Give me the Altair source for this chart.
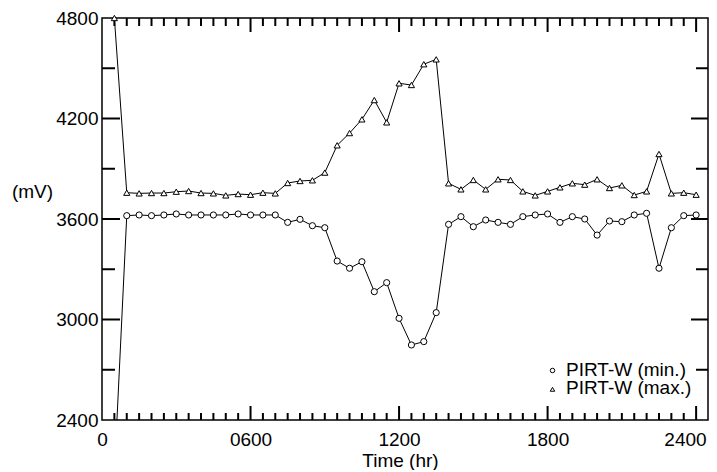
import altair as alt
import pandas as pd

# ---- data ----
hours = list(range(50, 2401, 50))
pirt_min = [2080, 3620, 3624, 3620, 3624, 3630, 3624, 3624, 3624, 3624, 3630, 3624,
            3624, 3624, 3580, 3598, 3560, 3548, 3349, 3306, 3345, 3166, 3220, 3007,
            2848, 2868, 3041, 3568, 3614, 3554, 3594, 3580, 3568, 3614, 3624, 3630,
            3580, 3614, 3600, 3504, 3588, 3584, 3624, 3634, 3306, 3548, 3620, 3624]
pirt_max = [4800, 3757, 3753, 3755, 3755, 3763, 3767, 3755, 3753, 3741, 3749, 3745,
            3757, 3753, 3815, 3827, 3831, 3877, 4040, 4113, 4195, 4310, 4177, 4410,
            4400, 4524, 4553, 3813, 3777, 3833, 3777, 3837, 3833, 3765, 3741, 3765,
            3789, 3813, 3805, 3837, 3785, 3801, 3743, 3765, 3988, 3753, 3757, 3745]
series_names = ["PIRT-W (min.)", "PIRT-W (max.)"]
series_shapes = ["circle", "triangle-up"]

x_ticks = [0, 600, 1200, 1800, 2400]
x_labels = ["0", "0600", "1200", "1800", "2400"]
y_ticks = [2400, 3000, 3600, 4200, 4800]
x_minor = [t for t in range(50, 2400, 50) if t % 600 != 0]
x_major = [600, 1200, 1800, 2400]
y_minor = [2700, 3300, 3900, 4500]
y_major = [3000, 3600, 4200]

W, H = 606, 402
FONT = "Liberation Sans"
FS = 19

df = pd.DataFrame({
    "hr": hours * 2,
    "mv": pirt_min + pirt_max,
    "series": [series_names[0]] * len(hours) + [series_names[1]] * len(hours),
})

xs = alt.Scale(domain=[0, 2448], nice=False, zero=False)
ys = alt.Scale(domain=[2400, 4800], nice=False, zero=False)

label_expr = ""
for v, l in zip(x_ticks, x_labels):
    label_expr += f"datum.value == {v} ? '{l}' : "
label_expr += "''"

x_axis = alt.Axis(values=x_ticks, labelExpr=label_expr, labelPadding=10, ticks=False,
                  domain=False, grid=False, labelFlush=False, labelOverlap=False,
                  labelAlign={"condition": {"test": "datum.value == 2400", "value": "right"},
                              "value": "center"},
                  labelOffset={"condition": {"test": "datum.value == 2400", "value": 10},
                               "value": 0},
                  labelFont=FONT, labelFontSize=FS, labelColor="black",
                  title="Time (hr)", titleFont=FONT, titleFontSize=FS, titleFontWeight="normal",
                  titleColor="black", titleX=298, titleY=46, titleBaseline="alphabetic",
                  titleAlign="center")
y_axis = alt.Axis(values=y_ticks, format="d", labelPadding=4, ticks=False, domain=False,
                  grid=False, labelFlush=False, labelOverlap=False,
                  labelFont=FONT, labelFontSize=FS, labelColor="black",
                  title="(mV)", titleFont=FONT, titleFontSize=FS, titleFontWeight="normal",
                  titleColor="black", titleAngle=0, titleX=-70, titleY=179,
                  titleBaseline="alphabetic", titleAlign="center")

base = alt.Chart(df)

lines = base.mark_line(color="black", strokeWidth=1, clip=True).encode(
    x=alt.X("hr:Q", scale=xs, axis=x_axis),
    y=alt.Y("mv:Q", scale=ys, axis=y_axis),
    detail="series:N",
)

points = base.transform_filter("datum.mv >= 2400").mark_point(
    filled=False, fill="white", fillOpacity=1, stroke="black", strokeWidth=1,
    size=38, opacity=1).encode(
    x=alt.X("hr:Q", scale=xs),
    y=alt.Y("mv:Q", scale=ys),
    shape=alt.Shape("series:N",
                    scale=alt.Scale(domain=series_names, range=series_shapes),
                    legend=None),
)


def xrules(vals, y0, y1):
    return alt.Chart(pd.DataFrame({"t": vals})).mark_rule(color="black", strokeWidth=2).encode(
        x=alt.X("t:Q", scale=xs), y=alt.value(y0), y2=alt.value(y1))


def yrules(vals, x0, x1):
    return alt.Chart(pd.DataFrame({"t": vals})).mark_rule(color="black", strokeWidth=2).encode(
        y=alt.Y("t:Q", scale=ys), x=alt.value(x0), x2=alt.value(x1))


tick_layers = [
    xrules(x_minor, H, H - 7), xrules(x_major, H, H - 14),
    xrules(x_minor, 0, 8), xrules(x_major, 0, 14),
    yrules(y_minor, 0, 13), yrules(y_major, 0, 18),
    yrules(y_minor, W, W - 12), yrules(y_major, W, W - 17),
]

# legend (bottom-right, inside the plot)
LEG_X, LEG_Y, LEG_DY = 450.5, 352.5, 18.8
legend_layers = []
for i, (name, shp) in enumerate(zip(series_names, series_shapes)):
    one = alt.Chart(pd.DataFrame({"series": [name]}))
    legend_layers.append(one.mark_point(
        filled=False, fill="white", fillOpacity=1, stroke="black", strokeWidth=1,
        size=20, opacity=1, shape=shp).encode(
        x=alt.value(LEG_X), y=alt.value(LEG_Y + i * LEG_DY)))
    legend_layers.append(one.mark_text(
        align="left", baseline="middle", font=FONT, fontSize=FS, color="black").encode(
        text="series:N", x=alt.value(LEG_X + 13.5), y=alt.value(LEG_Y - 1 + i * LEG_DY)))

chart = alt.layer(lines, *tick_layers, points, *legend_layers).properties(
    width=W, height=H,
    autosize=alt.AutoSizeParams(type="none"),
    padding={"left": 94, "top": 10, "right": 1, "bottom": 50},
    background="white",
).configure_view(stroke="black", strokeWidth=1.5)

chart.save("out.html", embed_options={"renderer": "svg", "actions": False})
